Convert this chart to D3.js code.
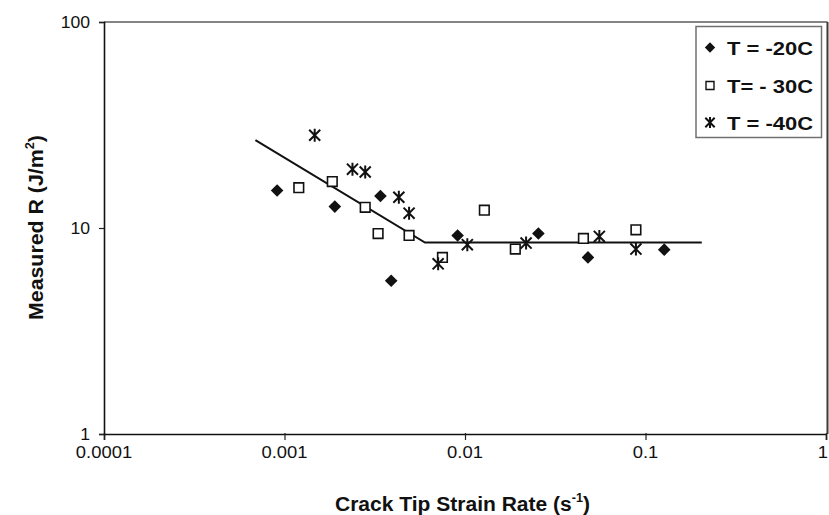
<!DOCTYPE html>
<html>
<head>
<meta charset="utf-8">
<script src="https://cdn.jsdelivr.net/npm/d3@7"></script>
<style>
  html, body { margin: 0; padding: 0; background: #fff; }
  svg { display: block; font-family: "Liberation Sans", Arial, Helvetica, sans-serif; }
</style>
</head>
<body>
<svg id="chart" width="829" height="515"></svg>
<script>
// ---- Data ----
const xTickValues = [0.0001, 0.001, 0.01, 0.1, 1];
const xTickLabels = ["0.0001", "0.001", "0.01", "0.1", "1"];
const yTickValues = [1, 10, 100];
const yTickLabels = ["1", "10", "100"];

const seriesNames = ["T = -20C", "T= - 30C", "T = -40C"];

const t20Rate = [0.00091, 0.0019, 0.0034, 0.0039, 0.0091, 0.0255, 0.048, 0.127];
const t20R    = [15.2, 12.7, 14.3, 5.55, 9.2, 9.4, 7.2, 7.85];

const t30Rate = [0.0012, 0.00184, 0.0028, 0.0033, 0.0049, 0.0075, 0.0128, 0.019, 0.0453, 0.0885];
const t30R    = [15.7, 16.8, 12.6, 9.4, 9.2, 7.2, 12.2, 7.9, 8.9, 9.8];

const t40Rate = [0.00147, 0.00238, 0.0028, 0.0043, 0.0049, 0.0071, 0.0103, 0.0218, 0.0555, 0.0885];
const t40R    = [28.2, 19.3, 18.7, 14.1, 11.8, 6.7, 8.3, 8.45, 9.1, 7.9];

const fitRate = [0.00069, 0.006, 0.205];
const fitR    = [26.7, 8.5, 8.5];

// ---- Layout ----
const svg = d3.select("#chart");
const plotLeft = 104, plotRight = 826, plotTop = 22, plotBottom = 434;

const x = d3.scaleLog().domain([1e-4, 1]).range([plotLeft, plotRight]);
const y = d3.scaleLog().domain([1, 100]).range([plotBottom, plotTop]);

// plot frame
svg.append("line").attr("x1", plotLeft).attr("x2", 827.5).attr("y1", plotTop).attr("y2", plotTop)
  .attr("stroke", "#858585").attr("stroke-width", 2);
svg.append("line").attr("x1", 827.5).attr("x2", 827.5).attr("y1", plotTop).attr("y2", plotBottom)
  .attr("stroke", "#3a3a3a").attr("stroke-width", 2);

// axes via d3
const xAxis = d3.axisBottom(x).tickValues(xTickValues).tickSize(6).tickFormat(() => "");
const yAxis = d3.axisLeft(y).tickValues(yTickValues).tickSize(5).tickFormat(() => "");

const gx = svg.append("g").attr("transform", `translate(0,${plotBottom})`).call(xAxis);
const gy = svg.append("g").attr("transform", `translate(${plotLeft},0)`).call(yAxis);
[gx, gy].forEach(g => {
  g.select(".domain").attr("stroke", "#111").attr("stroke-width", 1.6);
  g.selectAll(".tick line").attr("stroke", "#222").attr("stroke-width", 1.2);
});
gx.selectAll(".tick line").attr("y1", -1);

// tick labels
xTickValues.forEach((v, i) => {
  const last = i === xTickValues.length - 1;
  svg.append("g").attr("transform", `translate(${last ? 828 : x(v)},458) scale(1.15,1)`)
    .append("text").attr("text-anchor", last ? "end" : "middle")
    .attr("font-size", 16).attr("fill", "#111")
    .text(xTickLabels[i]);
});
yTickValues.forEach((v, i) => {
  svg.append("g").attr("transform", `translate(90,${y(v) + 6}) scale(1.1,1)`)
    .append("text").attr("text-anchor", "end").attr("font-size", 16).attr("fill", "#111")
    .text(yTickLabels[i]);
});

// axis titles
const xt = svg.append("text").attr("x", 335).attr("y", 511).attr("font-size", 20)
  .attr("font-weight", "bold").attr("fill", "#111")
  .attr("textLength", 255).attr("lengthAdjust", "spacingAndGlyphs");
xt.append("tspan").text("Crack Tip Strain Rate (s");
xt.append("tspan").attr("font-size", 12).attr("dy", -9).text("-1");
xt.append("tspan").attr("dy", 9).text(")");

const yt = svg.append("text").attr("transform", "translate(43,320) rotate(-90)")
  .attr("font-size", 20).attr("font-weight", "bold").attr("fill", "#111")
  .attr("textLength", 185).attr("lengthAdjust", "spacingAndGlyphs");
yt.append("tspan").text("Measured R (J/m");
yt.append("tspan").attr("font-size", 12).attr("dy", -9).text("2");
yt.append("tspan").attr("dy", 9).text(")");

// fit line
const fitData = fitRate.map((r, i) => [r, fitR[i]]);
svg.append("path").datum(fitData)
  .attr("d", d3.line().x(d => x(d[0])).y(d => y(d[1])))
  .attr("fill", "none").attr("stroke", "#111").attr("stroke-width", 2);

// marker shapes
function diamondPath(s) { return `M0,${-s}L${s},0L0,${s}L${-s},0Z`; }
function starPath(s) {
  const d = s * 0.85;
  return `M0,${-s}L0,${s}M${-d},${-d}L${d},${d}M${-d},${d}L${d},${-d}`;
}

const t20 = t20Rate.map((r, i) => [r, t20R[i]]);
const t30 = t30Rate.map((r, i) => [r, t30R[i]]);
const t40 = t40Rate.map((r, i) => [r, t40R[i]]);

svg.append("g").selectAll("path").data(t30).join("path")
  .attr("transform", d => `translate(${x(d[0])},${y(d[1])})`)
  .attr("d", "M-4.8,-4.8H4.8V4.8H-4.8Z")
  .attr("fill", "#fff").attr("stroke", "#111").attr("stroke-width", 1.6);

svg.append("g").selectAll("path").data(t40).join("path")
  .attr("transform", d => `translate(${x(d[0])},${y(d[1])})`)
  .attr("d", starPath(6.5))
  .attr("fill", "none").attr("stroke", "#111").attr("stroke-width", 2);

svg.append("g").selectAll("path").data(t20).join("path")
  .attr("transform", d => `translate(${x(d[0])},${y(d[1])})`)
  .attr("d", diamondPath(6.3))
  .attr("fill", "#111").attr("stroke", "none");

// legend
svg.append("rect").attr("x", 696).attr("y", 26.5).attr("width", 125.5).attr("height", 111)
  .attr("fill", "#fff").attr("stroke", "#707070").attr("stroke-width", 1.5);

const legendRows = [47.5, 85.5, 122.5];
const lg = svg.append("g");
lg.append("path").attr("transform", `translate(710,${legendRows[0]})`)
  .attr("d", diamondPath(5.2)).attr("fill", "#111");
lg.append("path").attr("transform", `translate(710,${legendRows[1]})`)
  .attr("d", "M-4,-4H4V4H-4Z").attr("fill", "#fff").attr("stroke", "#111").attr("stroke-width", 1.4);
lg.append("path").attr("transform", `translate(710,${legendRows[2]})`)
  .attr("d", starPath(5.5)).attr("fill", "none").attr("stroke", "#111").attr("stroke-width", 2);

seriesNames.forEach((name, i) => {
  lg.append("text").attr("x", 727).attr("y", legendRows[i] + 7)
    .attr("font-size", 19).attr("font-weight", "bold").attr("fill", "#111")
    .attr("textLength", 86).attr("lengthAdjust", "spacingAndGlyphs")
    .text(name);
});
</script>
</body>
</html>
